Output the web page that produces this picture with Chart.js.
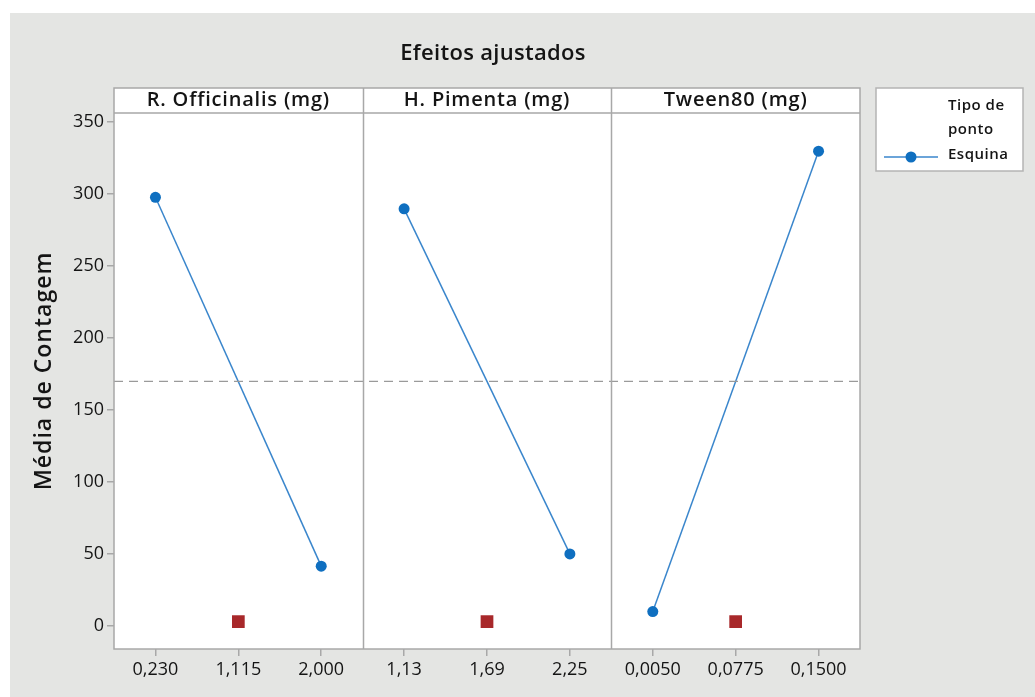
<!DOCTYPE html>
<html>
<head>
<meta charset="utf-8">
<script src="https://cdn.jsdelivr.net/npm/chart.js@4"></script>
<style>
    html, body { margin: 0; padding: 0; background: #ffffff; }
    #wrap {
        position: absolute;
        left: 10px;
        top: 13px;
        width: 1025px;
        height: 684px;
        background: #e4e5e3;
    }
</style>
</head>
<body>
<div id="wrap"><canvas id="effectsChart" width="1025" height="684"></canvas></div>
<script>
/* Main effects plot (fitted means) for three factors. */
var panelNames = ["R. Officinalis (mg)", "H. Pimenta (mg)", "Tween80 (mg)"];
var levelLabels = [
    ["0,230", "1,115", "2,000"],
    ["1,13", "1,69", "2,25"],
    ["0,0050", "0,0775", "0,1500"]
];
var lowMeans = [297.5, 289.5, 10];
var highMeans = [41.5, 50, 329.5];
var centerMeans = [3, 3, 3];
var grandMean = 169.8;
var yTicks = [0, 50, 100, 150, 200, 250, 300, 350];

var textColor = "#141414";
var frameColor = "#a8a8a8";
var blue = "#0f6fc0";
var fontFamily = "'Open Sans', 'Noto Sans', sans-serif";

// Each panel takes 3 units on the x axis; levels sit at 0.5, 1.5, 2.5.
function panelX(panel, level) {
    return panel * 3 + level + 0.5;
}

var datasets = [];
panelNames.forEach(function (name, i) {
    datasets.push({
        label: "Esquina",
        data: [
            { x: panelX(i, 0), y: lowMeans[i] },
            { x: panelX(i, 2), y: highMeans[i] }
        ],
        borderColor: "#3a86cc",
        backgroundColor: blue,
        borderWidth: 1.5,
        pointRadius: 5.5,
        pointBackgroundColor: blue,
        pointBorderWidth: 0,
        showLine: true
    });
    datasets.push({
        label: "Centro",
        data: [{ x: panelX(i, 1), y: centerMeans[i] }],
        pointStyle: "rect",
        pointRadius: 9,
        backgroundColor: "#a8282a",
        pointBackgroundColor: "#a8282a",
        pointBorderWidth: 0,
        showLine: false
    });
});
datasets.unshift({
    label: "Média",
    data: [{ x: 0, y: grandMean }, { x: 9, y: grandMean }],
    borderColor: "#9a9a9a",
    borderWidth: 1.2,
    borderDash: [9, 6],
    pointRadius: 0,
    showLine: true
});

// Frame, panel strips, title and legend in Minitab style.
var decorPlugin = {
    id: "decor",
    beforeDatasetsDraw: function (chart) {
        var ctx = chart.ctx;
        var a = chart.chartArea;
        ctx.save();
        ctx.fillStyle = "#ffffff";
        ctx.fillRect(a.left, a.top - 25, a.right - a.left, a.bottom - a.top + 25);
        ctx.restore();
    },
    afterDraw: function (chart) {
        var ctx = chart.ctx;
        var a = chart.chartArea;
        var xs = chart.scales.x;
        var stripTop = a.top - 25;
        ctx.save();
        ctx.strokeStyle = frameColor;
        ctx.lineWidth = 1.5;
        ctx.strokeRect(a.left, stripTop, a.right - a.left, a.bottom - stripTop);
        ctx.beginPath();
        ctx.moveTo(a.left, a.top);
        ctx.lineTo(a.right, a.top);
        [3, 6].forEach(function (v) {
            var px = Math.round(xs.getPixelForValue(v)) + 0.5;
            ctx.moveTo(px, stripTop);
            ctx.lineTo(px, a.bottom);
        });
        ctx.stroke();

        ctx.fillStyle = textColor;
        ctx.textAlign = "center";
        ctx.textBaseline = "middle";
        ctx.letterSpacing = "0.8px";
        ctx.font = "600 20px " + fontFamily;
        panelNames.forEach(function (name, i) {
            var cx = (xs.getPixelForValue(i * 3) + xs.getPixelForValue(i * 3 + 3)) / 2;
            ctx.fillText(name, cx, stripTop + 12);
        });

        ctx.letterSpacing = "0.3px";
        ctx.font = "600 22px " + fontFamily;
        ctx.fillText("Efeitos ajustados", 483, 41);

        // Y axis title
        ctx.save();
        ctx.translate(34, 358);
        ctx.rotate(-Math.PI / 2);
        ctx.letterSpacing = "1px";
        ctx.font = "600 23px " + fontFamily;
        ctx.fillText("Média de Contagem", 0, 0);
        ctx.restore();

        // Legend box
        ctx.fillStyle = "#ffffff";
        ctx.fillRect(866, 75, 147, 83);
        ctx.strokeStyle = "#b4b4b4";
        ctx.lineWidth = 1.5;
        ctx.strokeRect(866, 75, 147, 83);
        ctx.fillStyle = textColor;
        ctx.textAlign = "left";
        ctx.letterSpacing = "0.5px";
        ctx.font = "600 15px " + fontFamily;
        ctx.fillText("Tipo de", 938, 93);
        ctx.fillText("ponto", 938, 117);
        ctx.fillText("Esquina", 938, 142);
        ctx.letterSpacing = "0px";
        ctx.strokeStyle = "#3a86cc";
        ctx.lineWidth = 1.5;
        ctx.beginPath();
        ctx.moveTo(874, 144);
        ctx.lineTo(928, 144);
        ctx.stroke();
        ctx.fillStyle = blue;
        ctx.beginPath();
        ctx.arc(901, 144, 5.5, 0, Math.PI * 2);
        ctx.fill();
        ctx.restore();
    }
};

new Chart(document.getElementById("effectsChart"), {
    type: "scatter",
    data: { datasets: datasets },
    plugins: [decorPlugin],
    options: {
        responsive: false,
        animation: false,
        layout: { padding: { top: 100, right: 175, left: 0, bottom: 0 } },
        plugins: {
            legend: { display: false },
            tooltip: { enabled: false },
            title: { display: false }
        },
        scales: {
            x: {
                type: "linear",
                min: 0,
                max: 9,
                afterBuildTicks: function (scale) {
                    var t = [];
                    for (var p = 0; p < 3; p++) {
                        for (var l = 0; l < 3; l++) {
                            t.push({ value: panelX(p, l) });
                        }
                    }
                    scale.ticks = t;
                },
                afterFit: function (scale) { scale.height = 48; },
                ticks: {
                    autoSkip: false,
                    maxRotation: 0,
                    padding: 3,
                    color: textColor,
                    font: { family: fontFamily, size: 18 },
                    callback: function (v) {
                        var p = Math.floor(v / 3);
                        var l = Math.floor(v - p * 3);
                        return levelLabels[p][l];
                    }
                },
                grid: {
                    drawOnChartArea: false,
                    tickLength: 7,
                    color: frameColor,
                    lineWidth: 1.5
                },
                border: { display: false }
            },
            y: {
                min: -16,
                max: 356,
                afterBuildTicks: function (scale) {
                    scale.ticks = yTicks.map(function (v) { return { value: v }; });
                },
                afterFit: function (scale) { scale.width = 104; },
                ticks: {
                    padding: 3,
                    color: textColor,
                    font: { family: fontFamily, size: 18 }
                },
                grid: {
                    drawOnChartArea: false,
                    tickLength: 7,
                    color: frameColor,
                    lineWidth: 1.5
                },
                border: { display: false }
            }
        }
    }
});
</script>
</body>
</html>
